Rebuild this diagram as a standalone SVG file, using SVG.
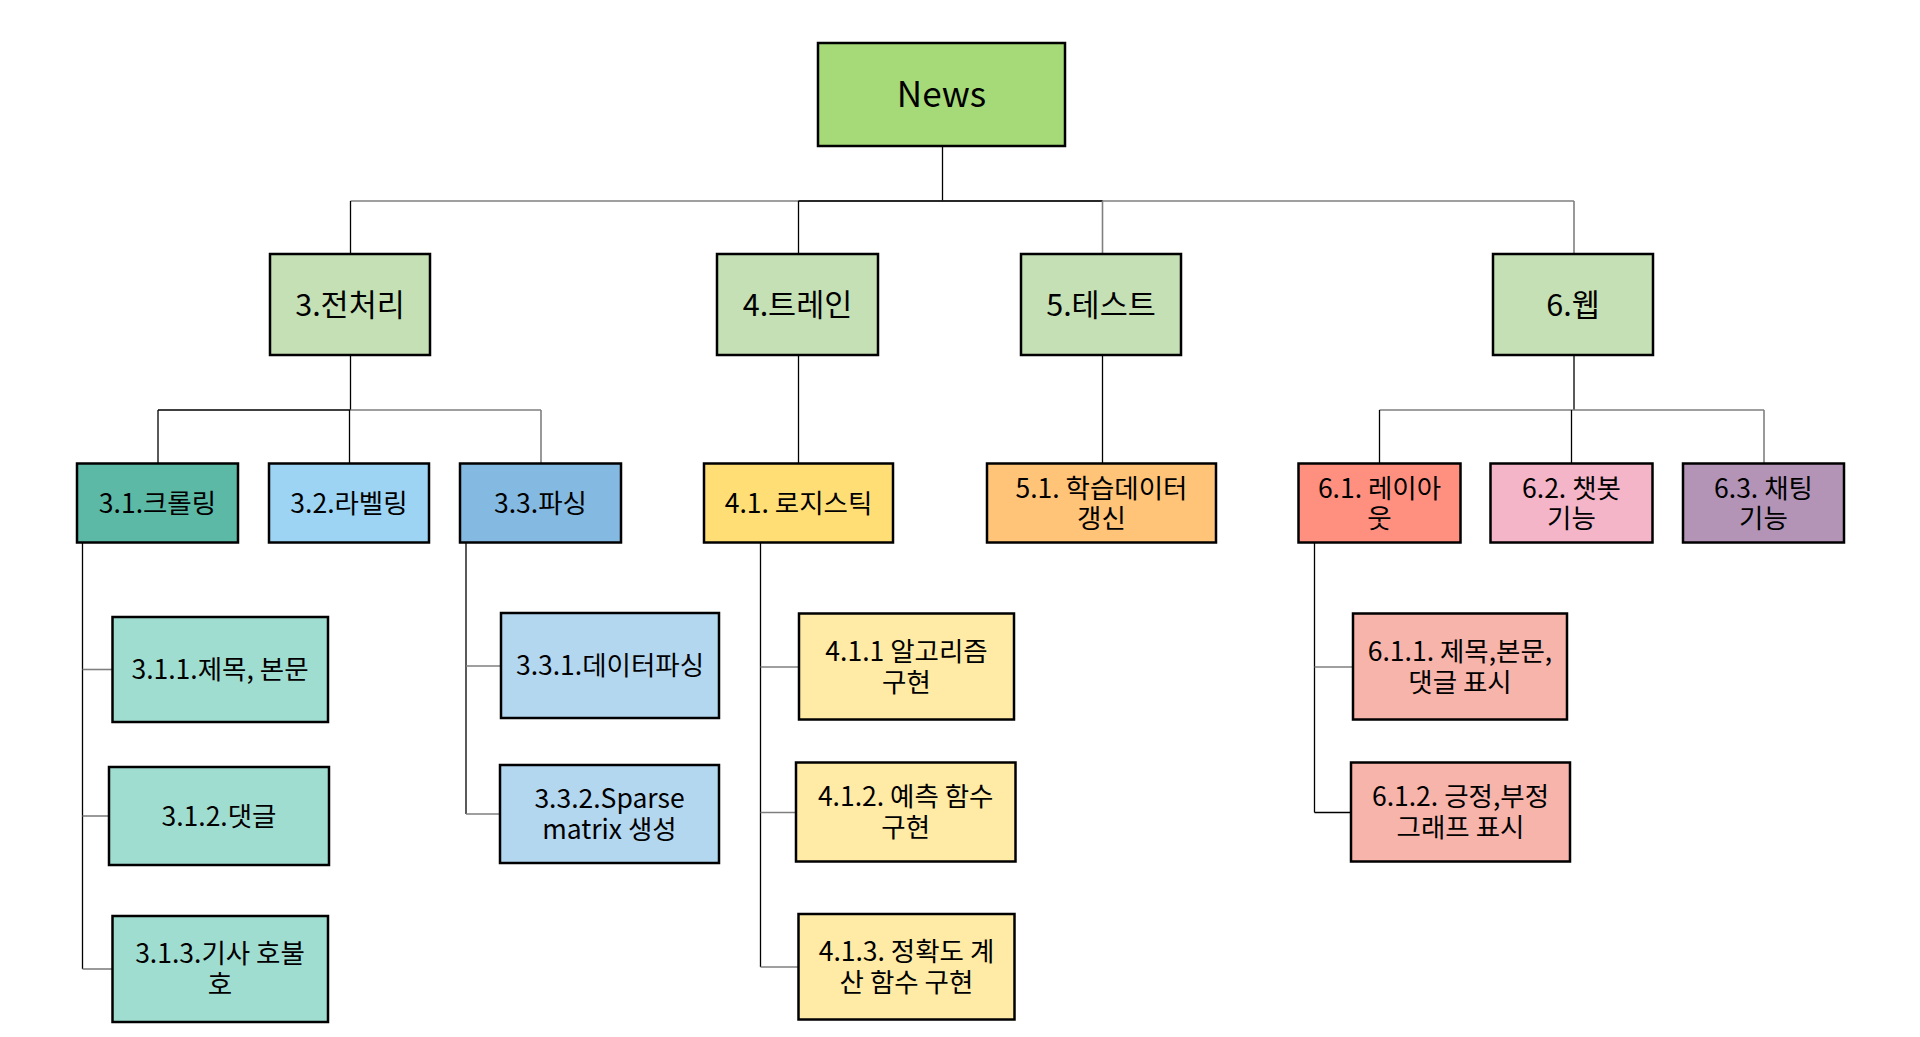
<svg xmlns="http://www.w3.org/2000/svg" width="1920" height="1037" viewBox="0 0 1920 1037">
<style>
  .box { stroke: #000; stroke-width: 2.5; }
  .t { font-family: "Noto Sans CJK KR", "Noto Sans", sans-serif; fill: #000; text-anchor: middle; }
  .t0 { font-size: 35px; }
  .t1 { font-size: 30.5px; }
  .t2 { font-size: 26.5px; }
  .k { stroke: #000; stroke-width: 1.3; fill: none; }
  .g { stroke: #7F7F7F; stroke-width: 1.6; fill: none; }
  .lv1 { fill: #C5E0B4; }
  .c31 { fill: #5CB9A6; } .c31x { fill: #A0DDD1; }
  .c32 { fill: #9DD3F3; }
  .c33 { fill: #84B9E2; } .c33x { fill: #B4D7F0; }
  .c41 { fill: #FFDF75; } .c41x { fill: #FFEBA6; }
  .c51 { fill: #FFC478; }
  .c61 { fill: #FF9080; } .c61x { fill: #F7B4AB; }
  .c62 { fill: #F3B5C7; }
  .c63 { fill: #B394B6; }
</style>
<rect width="1920" height="1037" fill="#FFFFFF"/>
<g id="connectors">
  <line class="k" x1="942.5" y1="147" x2="942.5" y2="201"/>
  <line class="g" x1="350.5" y1="201" x2="1574" y2="201"/>
  <line class="k" x1="798.5" y1="201" x2="1102.5" y2="201"/>
  <line class="k" x1="350.5" y1="201" x2="350.5" y2="254"/>
  <line class="k" x1="798.5" y1="201" x2="798.5" y2="254"/>
  <line class="g" x1="1102.5" y1="201" x2="1102.5" y2="254"/>
  <line class="g" x1="1574" y1="201" x2="1574" y2="254"/>

  <line class="k" x1="350.5" y1="355" x2="350.5" y2="410"/>
  <line class="k" x1="158" y1="410" x2="350.5" y2="410"/>
  <line class="g" x1="350.5" y1="410" x2="541" y2="410"/>
  <line class="k" x1="158" y1="410" x2="158" y2="463.5"/>
  <line class="k" x1="349.5" y1="410" x2="349.5" y2="463.5"/>
  <line class="g" x1="541" y1="410" x2="541" y2="463.5"/>

  <line class="k" x1="798.5" y1="355" x2="798.5" y2="463.5"/>
  <line class="k" x1="1102.5" y1="355" x2="1102.5" y2="463.5"/>

  <line class="k" x1="1574" y1="355" x2="1574" y2="410" stroke-width="2"/>
  <line class="g" x1="1379.5" y1="410" x2="1764" y2="410"/>
  <line class="k" x1="1379.5" y1="410" x2="1379.5" y2="463.5"/>
  <line class="k" x1="1571.5" y1="410" x2="1571.5" y2="463.5"/>
  <line class="g" x1="1764" y1="410" x2="1764" y2="463.5"/>

  <line class="k" x1="82.5" y1="542.5" x2="82.5" y2="969"/>
  <line class="g" x1="82.5" y1="669.5" x2="112.5" y2="669.5"/>
  <line class="g" x1="82.5" y1="816" x2="109" y2="816"/>
  <line class="g" x1="82.5" y1="969" x2="112.5" y2="969"/>

  <line class="k" x1="466" y1="542.5" x2="466" y2="814"/>
  <line class="g" x1="466" y1="666" x2="501" y2="666"/>
  <line class="g" x1="466" y1="814" x2="500" y2="814"/>

  <line class="k" x1="760.5" y1="542.5" x2="760.5" y2="967"/>
  <line class="g" x1="760.5" y1="667" x2="799" y2="667"/>
  <line class="g" x1="760.5" y1="812.5" x2="796" y2="812.5"/>
  <line class="g" x1="760.5" y1="967" x2="798.5" y2="967"/>

  <line class="k" x1="1314.5" y1="542.5" x2="1314.5" y2="812.5"/>
  <line class="g" x1="1314.5" y1="667" x2="1353" y2="667"/>
  <line class="k" x1="1314.5" y1="812.5" x2="1351" y2="812.5"/>
</g>

<g id="news">
  <rect class="box" x="818" y="43" width="247" height="103" fill="#A6DA79"/>
  <text class="t t0" x="941.5" y="107.3">News</text>
</g>

<g id="n3">
  <rect class="box lv1" x="270" y="254" width="160" height="101"/>
  <text class="t t1" x="350" y="315.5">3.전처리</text>
</g>
<g id="n4">
  <rect class="box lv1" x="717" y="254" width="161" height="101"/>
  <text class="t t1" x="797.5" y="315.5">4.트레인</text>
</g>
<g id="n5">
  <rect class="box lv1" x="1021" y="254" width="160" height="101"/>
  <text class="t t1" x="1101" y="315.5">5.테스트</text>
</g>
<g id="n6">
  <rect class="box lv1" x="1493" y="254" width="160" height="101"/>
  <text class="t t1" x="1573" y="315.5">6.웹</text>
</g>

<g id="n31">
  <rect class="box c31" x="77" y="463.5" width="161" height="79"/>
  <text class="t t2" x="157.5" y="512.5">3.1.크롤링</text>
</g>
<g id="n32">
  <rect class="box c32" x="269" y="463.5" width="160" height="79"/>
  <text class="t t2" x="349" y="512.5">3.2.라벨링</text>
</g>
<g id="n33">
  <rect class="box c33" x="460" y="463.5" width="161" height="79"/>
  <text class="t t2" x="540.5" y="512.5">3.3.파싱</text>
</g>
<g id="n41">
  <rect class="box c41" x="704" y="463.5" width="189" height="79"/>
  <text class="t t2" x="798.5" y="512.5">4.1. 로지스틱</text>
</g>
<g id="n51">
  <rect class="box c51" x="987" y="463.5" width="229" height="79"/>
  <text class="t t2" x="1101.5" y="497.5">5.1. 학습데이터<tspan x="1101.5" dy="30">갱신</tspan></text>
</g>
<g id="n61">
  <rect class="box c61" x="1298.5" y="463.5" width="162" height="79"/>
  <text class="t t2" x="1379.5" y="497.5">6.1. 레이아<tspan x="1379.5" dy="30">웃</tspan></text>
</g>
<g id="n62">
  <rect class="box c62" x="1490.5" y="463.5" width="162" height="79"/>
  <text class="t t2" x="1571.5" y="497.5">6.2. 챗봇<tspan x="1571.5" dy="30">기능</tspan></text>
</g>
<g id="n63">
  <rect class="box c63" x="1683" y="463.5" width="161" height="79"/>
  <text class="t t2" x="1763.5" y="497.5">6.3. 채팅<tspan x="1763.5" dy="30">기능</tspan></text>
</g>

<g id="n311">
  <rect class="box c31x" x="112.5" y="617" width="215.5" height="105"/>
  <text class="t t2" x="220" y="679">3.1.1.제목, 본문</text>
</g>
<g id="n312">
  <rect class="box c31x" x="109" y="767" width="220" height="98"/>
  <text class="t t2" x="219" y="825.5">3.1.2.댓글</text>
</g>
<g id="n313">
  <rect class="box c31x" x="112.5" y="916" width="215.5" height="106"/>
  <text class="t t2" x="220" y="963">3.1.3.기사 호불<tspan x="220" dy="31">호</tspan></text>
</g>
<g id="n331">
  <rect class="box c33x" x="501" y="613" width="218" height="105"/>
  <text class="t t2" x="610" y="675">3.3.1.데이터파싱</text>
</g>
<g id="n332">
  <rect class="box c33x" x="500" y="765" width="219" height="98"/>
  <text class="t t2" x="609.5" y="808">3.3.2.Sparse<tspan x="609.5" dy="31">matrix 생성</tspan></text>
</g>
<g id="n411">
  <rect class="box c41x" x="799" y="613.5" width="215" height="106"/>
  <text class="t t2" x="906.5" y="660.5">4.1.1 알고리즘<tspan x="906.5" dy="31">구현</tspan></text>
</g>
<g id="n412">
  <rect class="box c41x" x="796" y="762.5" width="219.5" height="99"/>
  <text class="t t2" x="905.7" y="806">4.1.2. 예측 함수<tspan x="905.7" dy="31">구현</tspan></text>
</g>
<g id="n413">
  <rect class="box c41x" x="798.5" y="914" width="216" height="105.5"/>
  <text class="t t2" x="906.5" y="960.7">4.1.3. 정확도 계<tspan x="906.5" dy="31">산 함수 구현</tspan></text>
</g>
<g id="n611">
  <rect class="box c61x" x="1353" y="613.5" width="214" height="106"/>
  <text class="t t2" x="1460" y="660.5">6.1.1. 제목,본문,<tspan x="1460" dy="31">댓글 표시</tspan></text>
</g>
<g id="n612">
  <rect class="box c61x" x="1351" y="762.5" width="219" height="99"/>
  <text class="t t2" x="1460.5" y="806">6.1.2. 긍정,부정<tspan x="1460.5" dy="31">그래프 표시</tspan></text>
</g>
</svg>
